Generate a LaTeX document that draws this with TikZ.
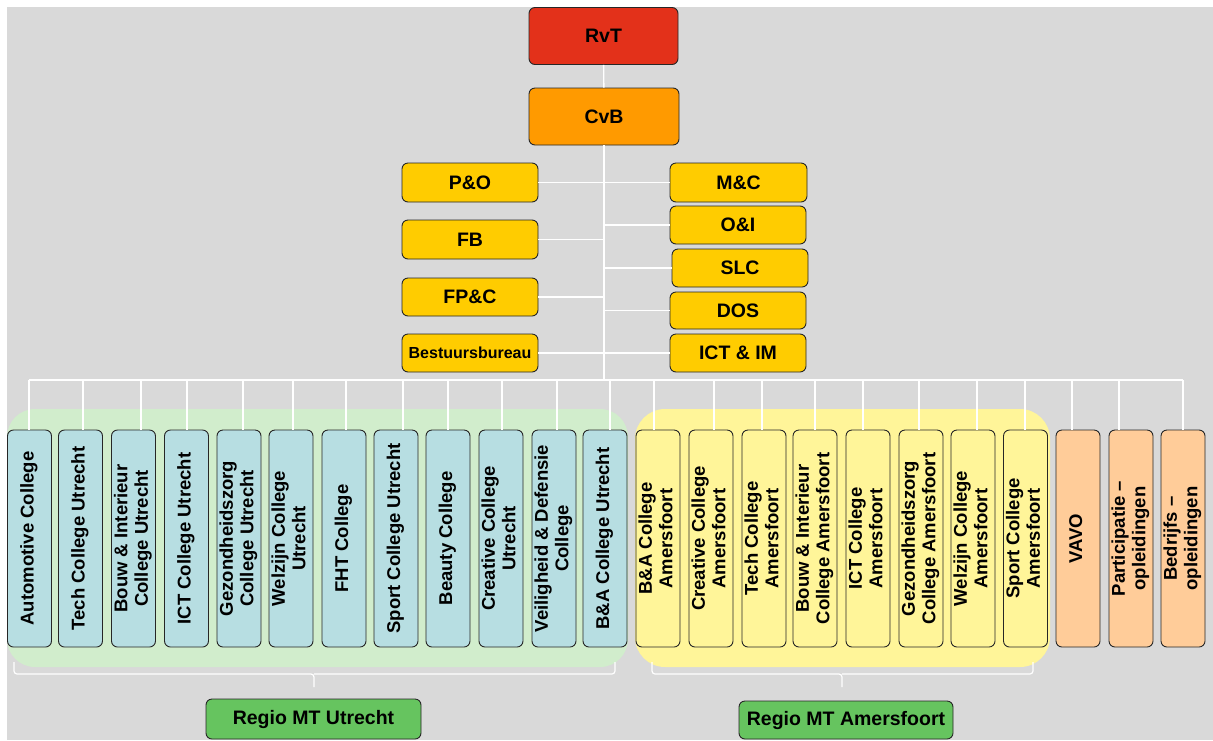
\documentclass[tikz,border=0pt]{standalone}
\usepackage{fontspec}
\setmainfont{Liberation Sans}
\usepackage{graphicx}
\definecolor{bgc}{HTML}{D9D9D9}
\definecolor{rvtc}{HTML}{E3311A}
\definecolor{cvbc}{HTML}{FF9A00}
\definecolor{staffc}{HTML}{FFCC00}
\definecolor{bluc}{HTML}{B7DEE2}
\definecolor{yelc}{HTML}{FFF599}
\definecolor{peachc}{HTML}{FFCC99}
\definecolor{regioc}{HTML}{66C45F}
\definecolor{greenreg}{HTML}{D1EDCC}
\definecolor{yelreg}{HTML}{FFF599}
\newcommand\tfont{\fontsize{19.5}{22}\selectfont\bfseries}
\newcommand\bbfont{\fontsize{16}{19}\selectfont\bfseries}
\newcommand\cfont{\fontsize{18.5}{20.5}\selectfont\bfseries}
\newcommand\vt[1]{\rotatebox{90}{\begin{tabular}{@{}c@{}}#1\end{tabular}}}
\tikzset{
  base/.style={draw=black!85, line width=0.9pt, rounded corners=6pt, inner sep=0pt, align=center, text=black},
  topbox/.style={base, font=\tfont},
  staffbox/.style={topbox, fill=staffc, minimum width=136pt, minimum height=38pt},
  colbox/.style={base, minimum width=44pt, minimum height=217pt, font=\cfont},
  regiobox/.style={topbox, fill=regioc},
  conn/.style={draw=white, line width=1.4pt},
  bracew/.style={draw=white, line width=1.2pt, rounded corners=3pt}
}
\begin{document}
\begin{tikzpicture}[x=1pt,y=-1pt]
\useasboundingbox (0,0) rectangle (1213,740);
\fill[white] (0,0) rectangle (1213,740);
\fill[bgc] (7,7) rectangle (1213,740);
% regions
\fill[greenreg, rounded corners=28pt] (7,409) rectangle (628,667);
\fill[yelreg, rounded corners=30pt] (635,409) rectangle (1050,667);
% top boxes
\node[topbox, fill=rvtc, minimum width=149pt, minimum height=57pt] (rvt) at (603.5,36) {RvT};
\node[topbox, fill=cvbc, minimum width=150pt, minimum height=57pt] (cvb) at (604,116.5) {CvB};
\node[staffbox, minimum height=39pt] (po) at (470,182.5) {P\&O};
\node[staffbox, minimum height=39pt] (fb) at (470,239.5) {FB};
\node[staffbox] (fpc) at (470,297) {FP\&C};
\node[staffbox, font=\bbfont] (bb) at (470,353) {Bestuursbureau};
\node[staffbox, minimum width=137pt, minimum height=39pt] (mc) at (738.5,182.5) {M\&C};
\node[staffbox] (oi) at (738,225) {O\&I};
\node[staffbox] (slc) at (740,268) {SLC};
\node[staffbox, minimum height=37pt] (dos) at (738,310.5) {DOS};
\node[staffbox] (ictim) at (738,353) {ICT \& IM};
% columns
\node[colbox, fill=bluc] (c1) at (29.5,538.5) {\vt{Automotive College}};
\node[colbox, fill=bluc] (c2) at (80.5,538.5) {\vt{Tech College Utrecht}};
\node[colbox, fill=bluc] (c3) at (133.5,538.5) {\vt{Bouw \& Interieur\\College Utrecht}};
\node[colbox, fill=bluc] (c4) at (186.5,538.5) {\vt{ICT College Utrecht}};
\node[colbox, fill=bluc] (c5) at (239,538.5) {\vt{Gezondheidszorg\\College Utrecht}};
\node[colbox, fill=bluc] (c6) at (291,538.5) {\vt{Welzijn College\\Utrecht}};
\node[colbox, fill=bluc] (c7) at (344,538.5) {\vt{FHT College}};
\node[colbox, fill=bluc] (c8) at (396,538.5) {\vt{Sport College Utrecht}};
\node[colbox, fill=bluc] (c9) at (448,538.5) {\vt{Beauty College}};
\node[colbox, fill=bluc] (c10) at (501,538.5) {\vt{Creative College\\Utrecht}};
\node[colbox, fill=bluc] (c11) at (554,538.5) {\vt{Veiligheid \& Defensie\\College}};
\node[colbox, fill=bluc] (c12) at (605,538.5) {\vt{B\&A College Utrecht}};
\node[colbox, fill=yelc] (c13) at (658,538.5) {\vt{B\&A College\\Amersfoort}};
\node[colbox, fill=yelc] (c14) at (711,538.5) {\vt{Creative College\\Amersfoort}};
\node[colbox, fill=yelc] (c15) at (764,538.5) {\vt{Tech College\\Amersfoort}};
\node[colbox, fill=yelc] (c16) at (815,538.5) {\vt{Bouw \& Interieur\\College Amersfoort}};
\node[colbox, fill=yelc] (c17) at (868,538.5) {\vt{ICT College\\Amersfoort}};
\node[colbox, fill=yelc] (c18) at (921,538.5) {\vt{Gezondheidszorg\\College Amersfoort}};
\node[colbox, fill=yelc] (c19) at (973,538.5) {\vt{Welzijn College\\Amersfoort}};
\node[colbox, fill=yelc] (c20) at (1025.5,538.5) {\vt{Sport College\\Amersfoort}};
\node[colbox, fill=peachc] (c21) at (1078,538.5) {\vt{VAVO}};
\node[colbox, fill=peachc] (c22) at (1131,538.5) {\vt{Participatie --\\opleidingen}};
\node[colbox, fill=peachc] (c23) at (1183,538.5) {\vt{Bedrijfs --\\opleidingen}};
% regio boxes
\node[regiobox, minimum width=215pt, minimum height=40pt] (ru) at (313.5,719) {Regio MT Utrecht};
\node[regiobox, minimum width=214pt, minimum height=38pt] (ra) at (846,720) {Regio MT Amersfoort};
% connectors
\coordinate (hub) at (604,380);
\draw[conn] (rvt) -- (cvb);
\draw[conn] (cvb.south) -- (hub);
\draw[conn] (po.east) -- (mc.west);
\draw[conn] (fb.east) -- (fb.east -| hub);
\draw[conn] (fpc.east) -- (fpc.east -| hub);
\draw[conn] (bb.east) -- (ictim.west);
\draw[conn] (oi.west) -- (oi.west -| hub);
\draw[conn] (slc.west) -- (slc.west -| hub);
\draw[conn] (dos.west) -- (dos.west -| hub);
\draw[conn] ([xshift=-0.5pt]c1.north |- hub) -- (c23.north |- hub);
\foreach \i/\d in {1/-0.5,2/2.5,3/7.5,4/0.5,5/4,6/2,7/2,8/7,9/0,10/1,11/3,12/5,13/-4,14/3,15/-2,16/0,17/-5,18/-2,19/4,20/-0.5,21/-6,22/-12,23/0}
  \draw[conn] ([xshift=\d pt]c\i.north |- hub) -- ([xshift=\d pt]c\i.north);
% braces
\draw[bracew] (14,662) -- (14,674) -- (314,674) -- (314,687);
\draw[bracew] (615,662) -- (615,674) -- (314,674);
\draw[bracew] (652,662) -- (652,674) -- (842,674) -- (842,687);
\draw[bracew] (1033,662) -- (1033,674) -- (842,674);
\end{tikzpicture}
\end{document}
